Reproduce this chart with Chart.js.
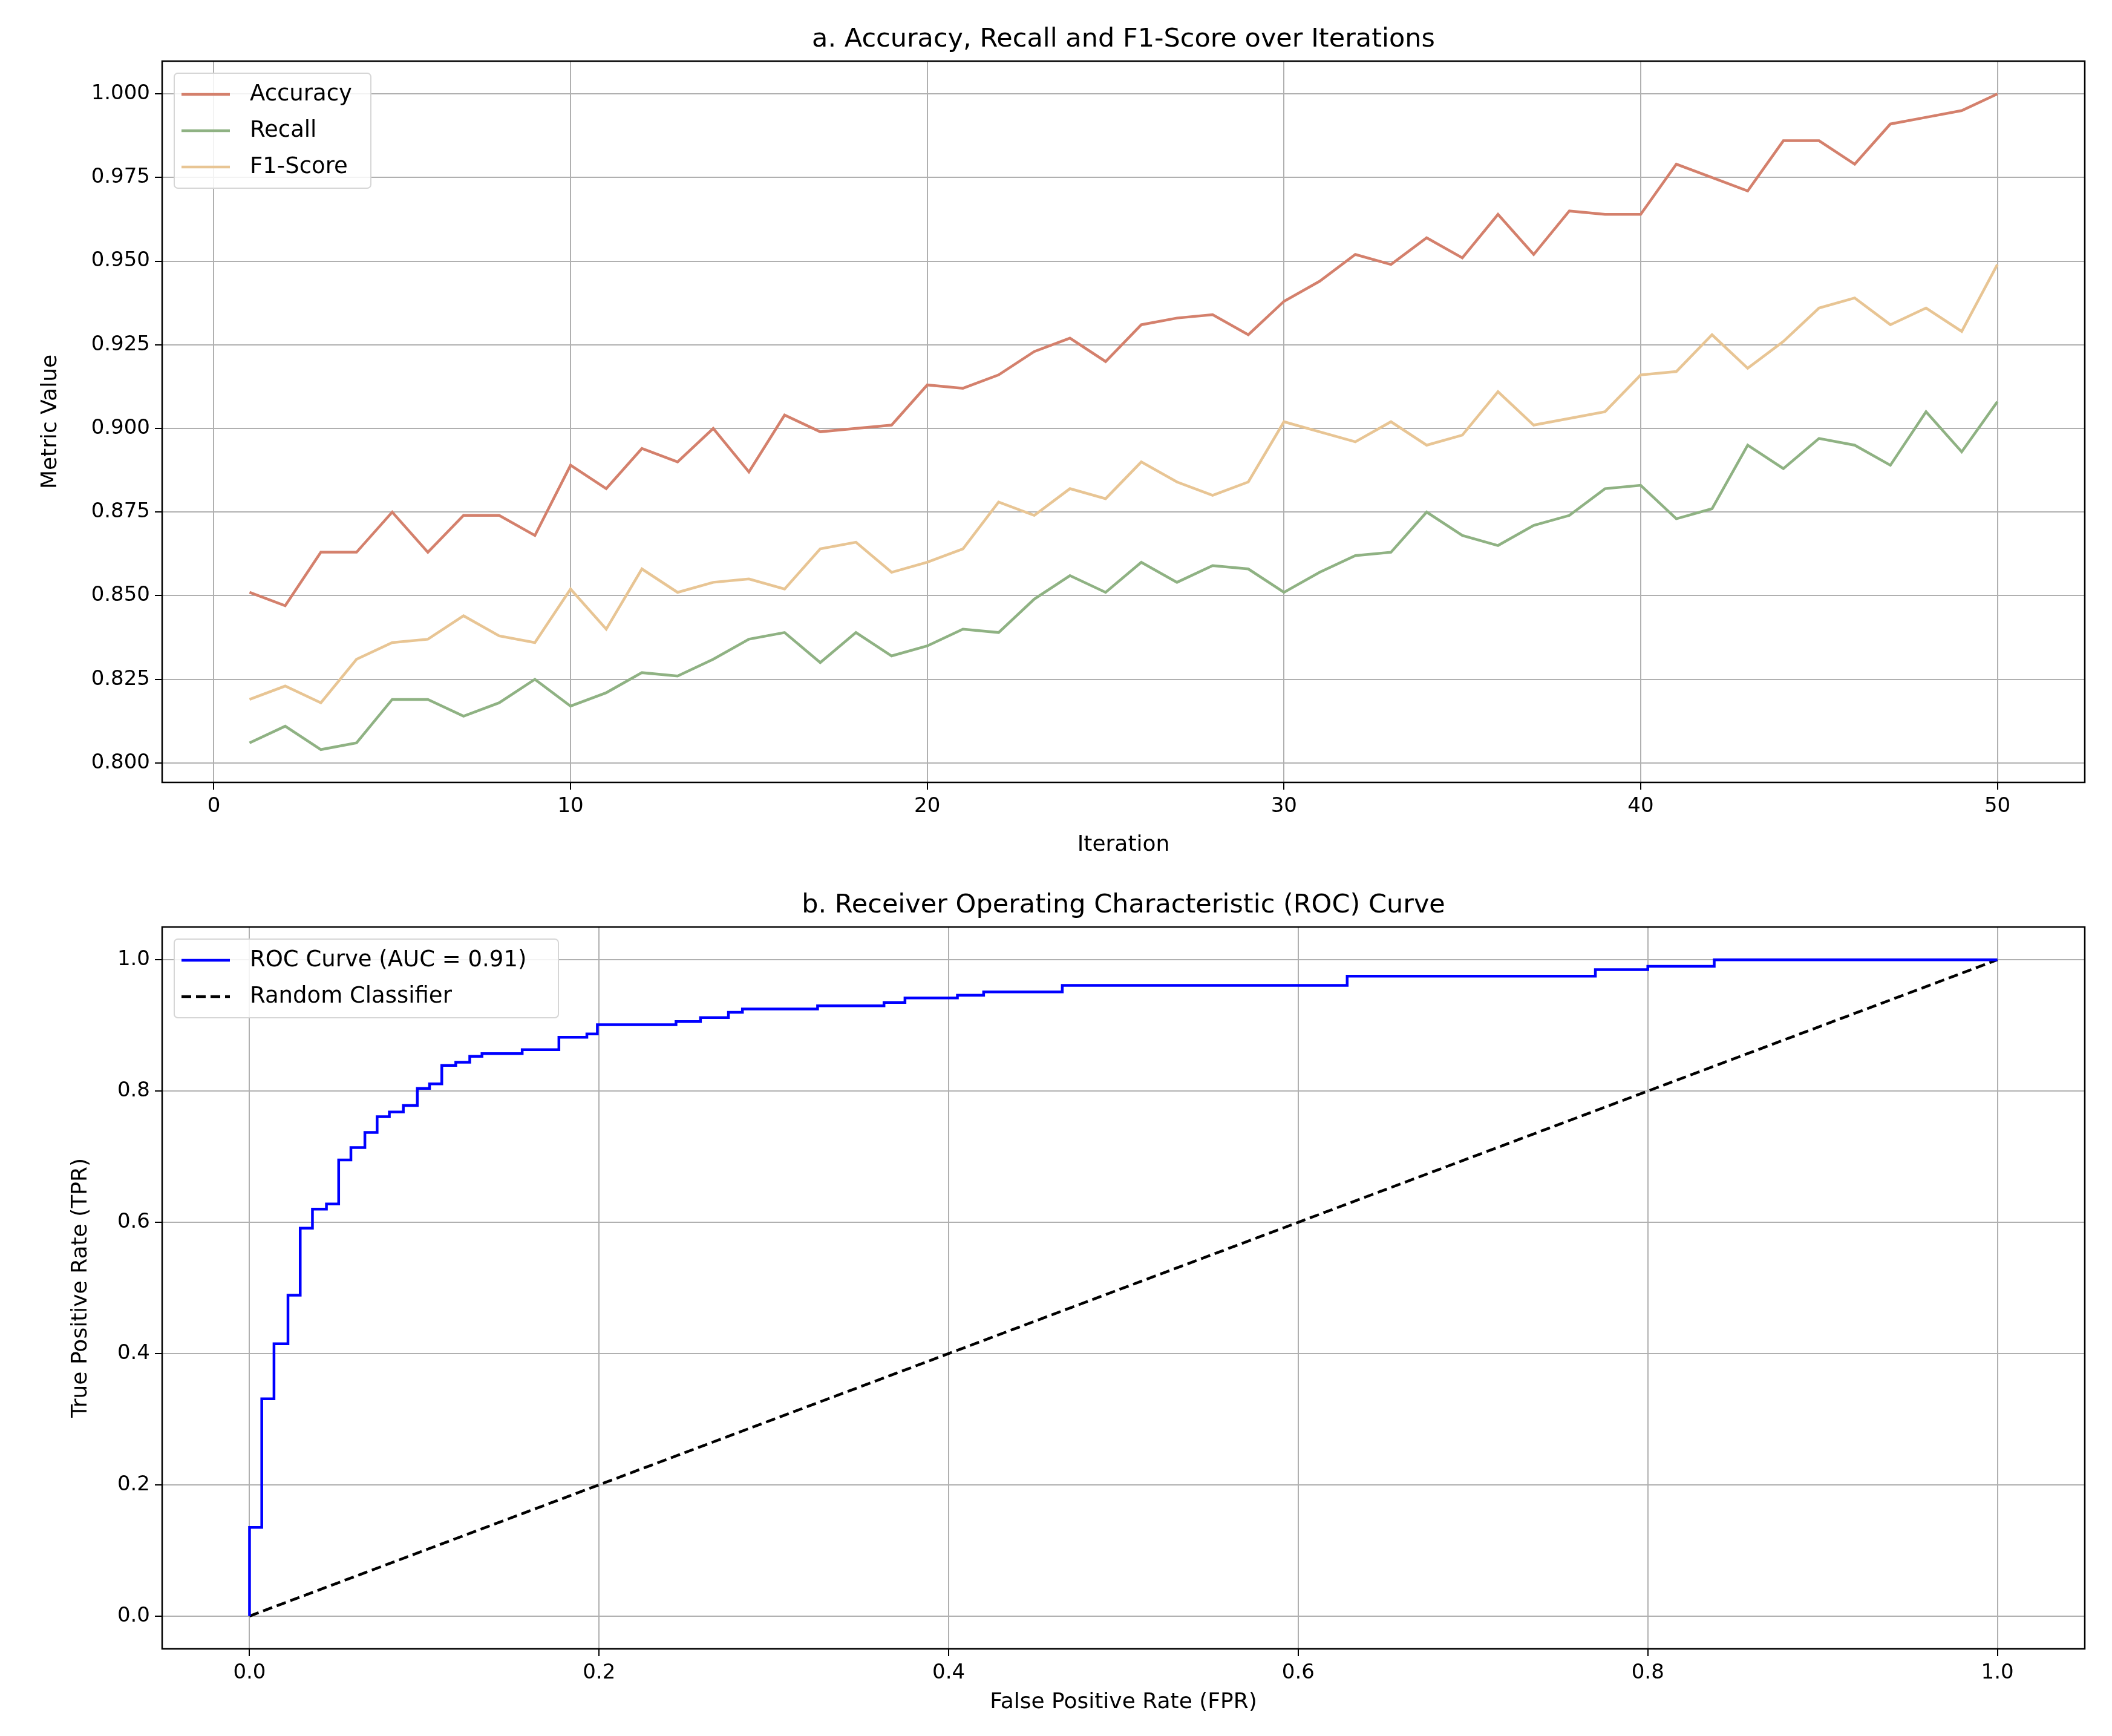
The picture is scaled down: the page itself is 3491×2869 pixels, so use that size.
<!DOCTYPE html>
<html>
<head>
<meta charset="utf-8">
<script src="https://cdn.jsdelivr.net/npm/chart.js@4.4.0/dist/chart.umd.min.js"></script>
<style>
  html, body { margin: 0; padding: 0; background: #fff; }
  .box { position: absolute; left: 0; width: 3491px; height: 1432px; }
</style>
</head>
<body>
<div class="box" style="top:0"><canvas id="metrics"></canvas></div>
<div class="box" style="top:1432px; height:1437px"><canvas id="roc"></canvas></div>
<script>
// datos
const iterations = Array.from({ length: 50 }, (_, i) => i + 1);
const accuracy = [0.851, 0.847, 0.863, 0.863, 0.875, 0.863, 0.874, 0.874, 0.868, 0.889,
  0.882, 0.894, 0.890, 0.900, 0.887, 0.904, 0.899, 0.900, 0.901, 0.913,
  0.912, 0.916, 0.923, 0.927, 0.920, 0.931, 0.933, 0.934, 0.928, 0.938,
  0.944, 0.952, 0.949, 0.957, 0.951, 0.964, 0.952, 0.965, 0.964, 0.964,
  0.979, 0.975, 0.971, 0.986, 0.986, 0.979, 0.991, 0.993, 0.995, 1.000];
const recall = [0.806, 0.811, 0.804, 0.806, 0.819, 0.819, 0.814, 0.818, 0.825, 0.817,
  0.821, 0.827, 0.826, 0.831, 0.837, 0.839, 0.830, 0.839, 0.832, 0.835,
  0.840, 0.839, 0.849, 0.856, 0.851, 0.860, 0.854, 0.859, 0.858, 0.851,
  0.857, 0.862, 0.863, 0.875, 0.868, 0.865, 0.871, 0.874, 0.882, 0.883,
  0.873, 0.876, 0.895, 0.888, 0.897, 0.895, 0.889, 0.905, 0.893, 0.908];
const f1Score = [0.819, 0.823, 0.818, 0.831, 0.836, 0.837, 0.844, 0.838, 0.836, 0.852,
  0.840, 0.858, 0.851, 0.854, 0.855, 0.852, 0.864, 0.866, 0.857, 0.860,
  0.864, 0.878, 0.874, 0.882, 0.879, 0.890, 0.884, 0.880, 0.884, 0.902,
  0.899, 0.896, 0.902, 0.895, 0.898, 0.911, 0.901, 0.903, 0.905, 0.916,
  0.917, 0.928, 0.918, 0.926, 0.936, 0.939, 0.931, 0.936, 0.929, 0.949];

// esquinas de la curva ROC (escalones)
const rocFpr = [0, 0.007, 0.014, 0.022, 0.029, 0.036, 0.044, 0.051, 0.058, 0.066, 0.073,
  0.080, 0.088, 0.096, 0.103, 0.110, 0.118, 0.126, 0.133, 0.156, 0.177, 0.193, 0.199,
  0.244, 0.258, 0.274, 0.282, 0.325, 0.363, 0.375, 0.405, 0.420, 0.465, 0.628, 0.770,
  0.800, 0.838, 1.0];
const rocTpr = [0.135, 0.331, 0.415, 0.489, 0.591, 0.620, 0.628, 0.695, 0.714, 0.737, 0.761,
  0.768, 0.778, 0.804, 0.811, 0.839, 0.844, 0.853, 0.857, 0.863, 0.882, 0.887, 0.901,
  0.906, 0.912, 0.920, 0.925, 0.930, 0.935, 0.942, 0.946, 0.951, 0.961, 0.975, 0.985,
  0.990, 1.0, 1.0];

const metricTicksX = [0, 10, 20, 30, 40, 50];
const metricTicksY = [0.800, 0.825, 0.850, 0.875, 0.900, 0.925, 0.950, 0.975, 1.000];
const rocTicks = [0.0, 0.2, 0.4, 0.6, 0.8, 1.0];

const FONT = 'DejaVu Sans';

function stepPoints() {
  const pts = [{ x: 0, y: 0 }];
  let prevY = 0;
  rocFpr.forEach((x, i) => {
    pts.push({ x: x, y: prevY });
    pts.push({ x: x, y: rocTpr[i] });
    prevY = rocTpr[i];
  });
  return pts;
}

// titulo, marco y leyenda dentro del area
function frame(title, legendItems, legendW) {
  return {
    id: 'frame',
    afterDraw(chart) {
      const { ctx, chartArea: a } = chart;
      ctx.save();
      ctx.strokeStyle = '#000';
      ctx.lineWidth = 2.5;
      ctx.strokeRect(a.left, a.top, a.right - a.left, a.bottom - a.top);
      ctx.fillStyle = '#000';
      ctx.font = '43px ' + FONT;
      ctx.textAlign = 'center';
      ctx.textBaseline = 'bottom';
      ctx.fillText(title, (a.left + a.right) / 2, a.top - 14);
      // leyenda
      const lx = a.left + 20, ly = a.top + 20, rowH = 60;
      const h = legendItems.length * rowH + 10;
      ctx.fillStyle = 'rgba(255,255,255,0.85)';
      ctx.strokeStyle = '#d6d6d6';
      ctx.lineWidth = 2;
      ctx.beginPath();
      ctx.roundRect(lx, ly, legendW, h, 6);
      ctx.fill();
      ctx.stroke();
      ctx.font = '37px ' + FONT;
      ctx.textAlign = 'left';
      ctx.textBaseline = 'middle';
      legendItems.forEach((it, i) => {
        const y = ly + 35 + i * rowH;
        ctx.strokeStyle = it.color;
        ctx.lineWidth = 4.5;
        ctx.setLineDash(it.dash || []);
        ctx.beginPath();
        ctx.moveTo(lx + 12, y);
        ctx.lineTo(lx + 92, y);
        ctx.stroke();
        ctx.setLineDash([]);
        ctx.fillStyle = '#000';
        ctx.fillText(it.label, lx + 125, y);
      });
      ctx.restore();
    }
  };
}

function axis(min, max, ticks, title, fmt, isY, size) {
  return {
    type: 'linear', min: min, max: max,
    afterBuildTicks: s => { s.ticks = ticks.map(v => ({ value: v })); },
    afterFit: s => { if (isY) s.width = size; else s.height = size; },
    grid: { color: '#b0b0b0', lineWidth: 2, tickLength: 12, tickColor: '#000', drawTicks: true },
    border: { display: false },
    ticks: { color: '#000', font: { family: FONT, size: 34 }, padding: 8, callback: fmt, autoSkip: false, maxRotation: 0 },
    title: { display: true, text: title, color: '#000', font: { family: FONT, size: 36 }, padding: { top: 4, bottom: 4 } }
  };
}

const common = {
  responsive: true,
  maintainAspectRatio: false,
  animation: false,
  plugins: { legend: { display: false }, tooltip: { enabled: false } },
  elements: { point: { radius: 0 }, line: { tension: 0 } }
};

const series = (data) => iterations.map((x, i) => ({ x: x, y: data[i] }));

new Chart(document.getElementById('metrics'), {
  type: 'line',
  data: {
    datasets: [
      { data: series(accuracy), borderColor: '#d4806c', borderWidth: 4.5 },
      { data: series(recall), borderColor: '#8fb283', borderWidth: 4.5 },
      { data: series(f1Score), borderColor: '#e8c594', borderWidth: 4.5 }
    ]
  },
  options: Object.assign({}, common, {
    layout: { padding: { top: 101, right: 45, left: 58, bottom: 10 } },
    scales: {
      x: axis(-1.45, 52.45, metricTicksX, 'Iteration', v => v, false, 129),
      y: axis(0.7942, 1.0098, metricTicksY, 'Metric Value', v => v.toFixed(3), true, 210)
    }
  }),
  plugins: [frame('a. Accuracy, Recall and F1-Score over Iterations', [
    { label: 'Accuracy', color: '#d4806c' },
    { label: 'Recall', color: '#8fb283' },
    { label: 'F1-Score', color: '#e8c594' }
  ], 325)]
});

new Chart(document.getElementById('roc'), {
  type: 'line',
  data: {
    datasets: [
      { data: stepPoints(), borderColor: '#0000ff', borderWidth: 4.5 },
      { data: [{ x: 0, y: 0 }, { x: 1, y: 1 }], borderColor: '#000', borderWidth: 4.5, borderDash: [16, 8] }
    ]
  },
  options: Object.assign({}, common, {
    layout: { padding: { top: 100, right: 45, left: 108, bottom: 30 } },
    scales: {
      x: axis(-0.05, 1.05, rocTicks, 'False Positive Rate (FPR)', v => v.toFixed(1), false, 114),
      y: axis(-0.05, 1.05, rocTicks, 'True Positive Rate (TPR)', v => v.toFixed(1), true, 160)
    }
  }),
  plugins: [frame('b. Receiver Operating Characteristic (ROC) Curve', [
    { label: 'ROC Curve (AUC = 0.91)', color: '#0000ff' },
    { label: 'Random Classifier', color: '#000', dash: [16, 8] }
  ], 635)]
});
</script>
</body>
</html>
